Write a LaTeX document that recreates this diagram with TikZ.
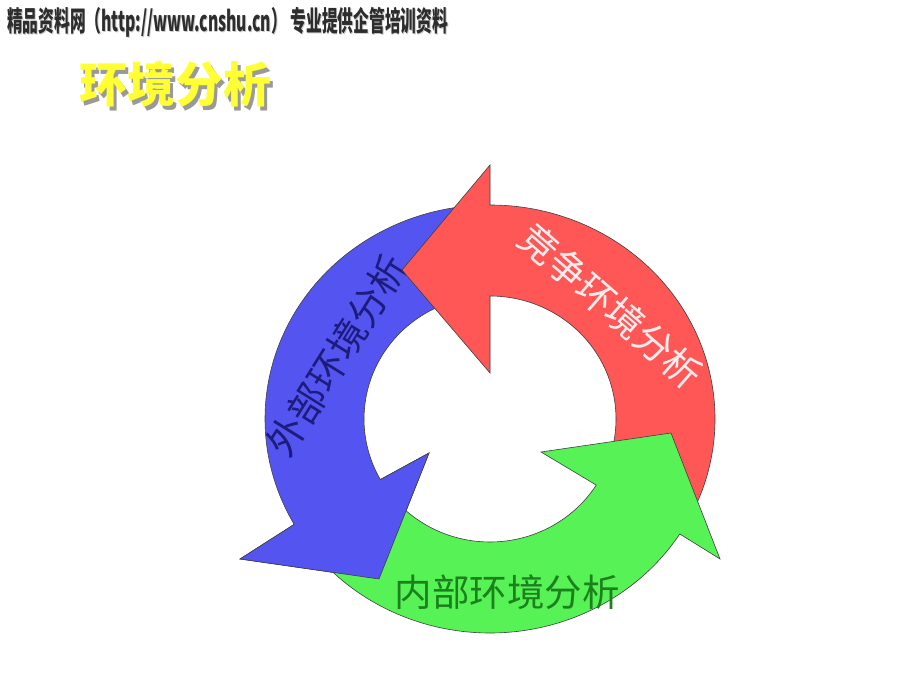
\documentclass[tikz,border=0pt]{standalone}
\usepackage{fontspec}
\usepackage{graphicx}
\newfontfamily\cjk{Noto Sans CJK SC}
\usetikzlibrary{calc}
\definecolor{arrblue}{RGB}{84,84,240}
\definecolor{arrred}{RGB}{255,86,86}
\definecolor{arrgreen}{RGB}{86,242,86}
\definecolor{txtblue}{RGB}{28,28,125}
\definecolor{txtred}{RGB}{252,236,236}
\definecolor{txtgreen}{RGB}{28,128,28}
\definecolor{titleyellow}{RGB}{255,255,51}
\definecolor{headgray}{RGB}{45,45,45}
\newcommand{\shadowtext}[4]{\makebox[0pt][l]{\hspace*{#3}\raisebox{-#3}{\textcolor{#2}{#4}}}\textcolor{#1}{#4}}
\tikzset{
  arrowshape/.style={draw=black!75, line width=0.6pt, line join=miter},
  ringtext/.style={font=\cjk\fontsize{38}{38}\selectfont, inner sep=0pt},
}
\begin{document}
\begin{tikzpicture}[x=1pt,y=1pt]
\useasboundingbox (0,0) rectangle (920,690);
\fill[white] (0,0) rectangle (920,690);
\coordinate (C) at (490,271);

% blue arrow (external)
\filldraw[arrowshape, fill=arrblue]
  ($(C)+(95:126pt and 123pt)$) -- ($(C)+(95:225pt and 214pt)$)
  arc[start angle=95, end angle=209.5, x radius=225pt, y radius=214pt]
  -- ($(C)+(-250,-140)$) -- ($(C)+(-111,-160)$) -- ($(C)+(-61,-34)$)
  -- ($(C)+(209.5:126pt and 123pt)$)
  arc[start angle=209.5, end angle=95, x radius=126pt, y radius=123pt] -- cycle;
\node[ringtext, text=txtblue, rotate=58] (tb) at (337,335) {外部环境分析};

% red arrow (competition)
\filldraw[arrowshape, fill=arrred]
  ($(C)+(-25:126pt and 123pt)$) -- ($(C)+(-25:225pt and 214pt)$)
  arc[start angle=-25, end angle=90, x radius=225pt, y radius=214pt]
  -- ($(C)+(0,254)$) -- ($(C)+(-88,149)$) -- ($(C)+(0,46)$)
  -- ($(C)+(90:126pt and 123pt)$)
  arc[start angle=90, end angle=-25, x radius=126pt, y radius=123pt] -- cycle;
\node[ringtext, text=txtred, rotate=-41] (tr) at (611,384) {竞争环境分析};

% green arrow (internal)
\filldraw[arrowshape, fill=arrgreen]
  ($(C)+(218:126pt and 123pt)$) -- ($(C)+(218:225pt and 214pt)$)
  arc[start angle=218, end angle=327.5, x radius=225pt, y radius=214pt]
  -- ($(C)+(230,-140)$) -- ($(C)+(181,-14)$) -- ($(C)+(51,-33)$)
  -- ($(C)+(327.5:126pt and 123pt)$)
  arc[start angle=327.5, end angle=218, x radius=126pt, y radius=123pt] -- cycle;
\node[ringtext, text=txtgreen, font=\cjk\fontsize{37.5}{38}\selectfont] (tg) at (507,98) {内部环境分析};

% blue arrow head over the green tail
\fill[arrblue] ($(C)+(209.5:225pt and 214pt)$) -- ($(C)+(-250,-140)$) -- ($(C)+(-111,-160)$)
  -- ($(C)+(-61,-34)$) -- ($(C)+(209.5:126pt and 123pt)$) -- cycle;
\draw[arrowshape] ($(C)+(209.5:225pt and 214pt)$) -- ($(C)+(-250,-140)$) -- ($(C)+(-111,-160)$)
  -- ($(C)+(-61,-34)$) -- ($(C)+(209.5:126pt and 123pt)$);

% title
\node[font=\cjk\bfseries\fontsize{48}{48}\selectfont, inner sep=0pt] (title) at (175,604)
  {\shadowtext{titleyellow}{black!40}{3.5pt}{环境分析}};

% header
\node[anchor=west, inner sep=0pt, font=\cjk\bfseries\fontsize{28}{28}\selectfont] (header) at (7,667)
  {\scalebox{0.562}[1]{\shadowtext{headgray}{black!20}{1.5pt}{精品资料网（http://www.cnshu.cn） 专业提供企管培训资料}}};
\end{tikzpicture}
\end{document}
